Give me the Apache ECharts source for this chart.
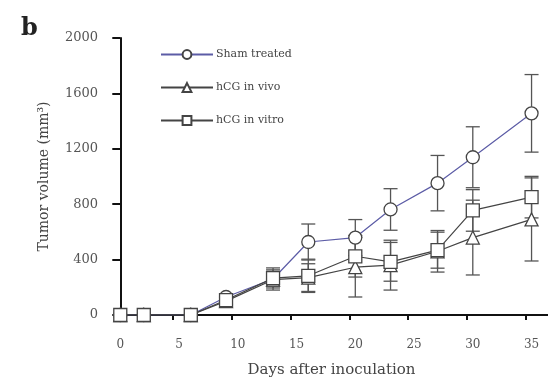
<!DOCTYPE html>
<html>
<head>
<meta charset="utf-8">
<script src="https://cdn.jsdelivr.net/npm/echarts@6/dist/echarts.min.js"></script>
<style>
  html, body { margin: 0; padding: 0; background: #fff; }
  #chart { width: 548px; height: 381px; }
</style>
</head>
<body>
<div id="chart"></div>
<script>
// days after inoculation
const days = [0, 2, 6, 9, 13, 16, 20, 23, 27, 30, 35];

// mean tumour volume (mm^3) and error (±)
const shamMean = [0, 0, 0, 130, 260, 527, 559, 762, 952, 1139, 1456];
const shamErr  = [0, 0, 0, 20, 80, 130, 130, 150, 200, 220, 280];
const vivoMean = [0, 0, 0, 100, 255, 270, 345, 360, 460, 559, 690];
const vivoErr  = [0, 0, 0, 20, 60, 100, 215, 180, 150, 270, 300];
const vitroMean = [0, 0, 0, 108, 266, 283, 424, 384, 468, 755, 851];
const vitroErr  = [0, 0, 0, 30, 60, 120, 150, 140, 130, 150, 150];

const xLabels = [0, 5, 10, 15, 20, 25, 30, 35];
const xTicks = [4.5, 9.5, 14.5, 19.5, 24.5, 29.5, 34.5];

const SERIF = '"DejaVu Serif", "Liberation Serif", serif';
const LABEL = '#555';
const ERR = '#555';

const chart = echarts.init(document.getElementById('chart'), null, { renderer: 'canvas' });

function points(mean) {
  return days.map((d, i) => [d, mean[i]]);
}
function bars(mean, err) {
  return days.map((d, i) => [d, mean[i] - err[i], mean[i] + err[i]]).filter((r, i) => err[i] > 0);
}

// vertical bar with caps, drawn through the axes
function renderErr(params, api) {
  const x = api.value(0);
  const lo = api.coord([x, api.value(1)]);
  const hi = api.coord([x, api.value(2)]);
  const w = 7;
  const style = { stroke: ERR, lineWidth: 1.3 };
  return {
    type: 'group',
    children: [
      { type: 'line', shape: { x1: lo[0], y1: lo[1], x2: hi[0], y2: hi[1] }, style },
      { type: 'line', shape: { x1: lo[0] - w, y1: lo[1], x2: lo[0] + w, y2: lo[1] }, style },
      { type: 'line', shape: { x1: hi[0] - w, y1: hi[1], x2: hi[0] + w, y2: hi[1] }, style },
    ],
  };
}

const groups = [
  { name: 'Sham treated', mean: shamMean, err: shamErr, symbol: 'circle', size: 13, color: '#5c5ca6' },
  { name: 'hCG in vivo', mean: vivoMean, err: vivoErr, symbol: 'triangle', size: 13, color: '#444' },
  { name: 'hCG in vitro', mean: vitroMean, err: vitroErr, symbol: 'rect', size: 13, color: '#444' },
];

const errSeries = groups.map(g => ({
  type: 'custom',
  name: g.name + ' err',
  data: bars(g.mean, g.err),
  renderItem: renderErr,
  encode: { x: 0, y: [1, 2] },
  z: 1,
  silent: true,
}));

const lineSeries = groups.map((g, i) => ({
  type: 'line',
  name: g.name,
  data: points(g.mean),
  symbol: g.symbol,
  symbolSize: g.size,
  lineStyle: { color: g.color, width: 1.2 },
  itemStyle: { color: '#fff', borderColor: '#444', borderWidth: 1.3 },
  z: 2 + i,
}));

chart.setOption({
  backgroundColor: '#fff',
  animation: false,
  title: {
    text: 'b',
    left: 16,
    top: 12,
    textStyle: { fontFamily: SERIF, fontSize: 24, fontWeight: 'bold', color: '#222' },
  },
  legend: {
    orient: 'vertical',
    left: 155,
    top: 44,
    itemWidth: 52,
    itemHeight: 11,
    itemGap: 22,
    data: groups.map(g => g.name),
    textStyle: { fontFamily: SERIF, fontSize: 11, color: '#444', padding: [0, 0, 0, -2] },
  },
  grid: { left: 115, right: 0, top: 38, bottom: 66, outerBoundsMode: 'none' },
  xAxis: {
    type: 'value',
    min: -0.45,
    max: 36.4,
    name: 'Days after inoculation',
    nameLocation: 'middle',
    nameGap: 48,
    nameTextStyle: { fontFamily: SERIF, fontSize: 15, color: '#444' },
    axisLine: { lineStyle: { color: '#111', width: 2 } },
    axisTick: { show: true, length: 5, lineStyle: { color: '#111', width: 2 }, customValues: xTicks },
    axisLabel: { fontFamily: SERIF, fontSize: 12, color: LABEL, margin: 24, customValues: xLabels },
    splitLine: { show: false },
  },
  yAxis: {
    type: 'value',
    min: 0,
    max: 2000,
    interval: 400,
    name: 'Tumor volume (mm³)',
    nameLocation: 'middle',
    nameGap: 64,
    nameTextStyle: { fontFamily: SERIF, fontSize: 14, color: '#444' },
    axisLine: { show: true, lineStyle: { color: '#111', width: 2 } },
    axisTick: { show: true, length: 8, lineStyle: { color: '#111', width: 2 } },
    axisLabel: { fontFamily: SERIF, fontSize: 13, color: LABEL, margin: 17, formatter: v => String(v) },
    splitLine: { show: false },
  },
  series: [...errSeries, ...lineSeries],
});
</script>
</body>
</html>
